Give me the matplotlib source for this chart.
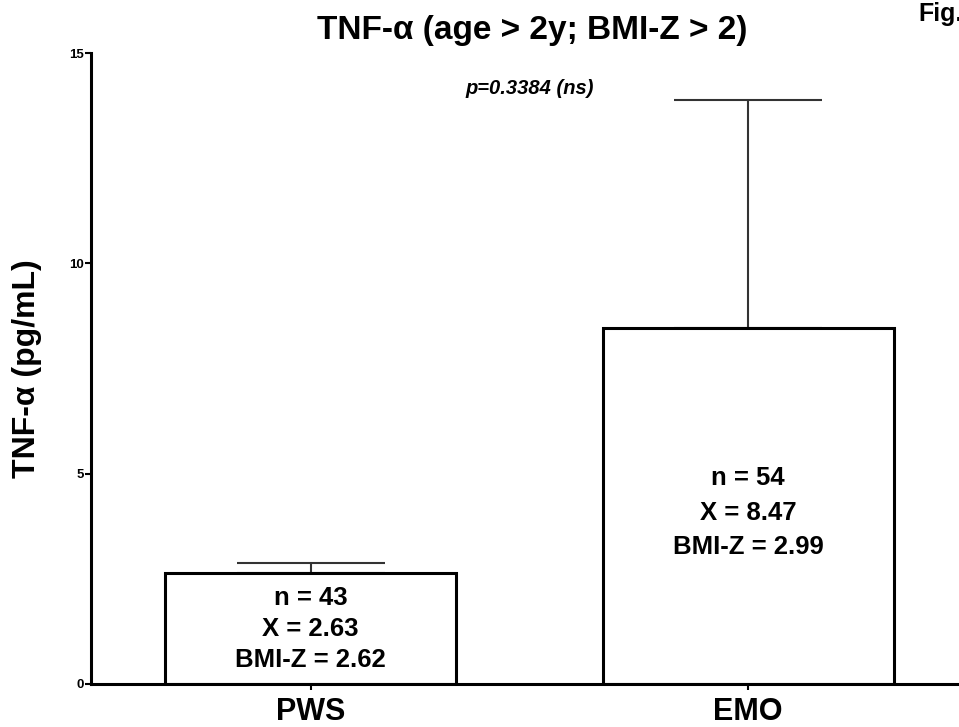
import matplotlib
matplotlib.use('Agg')
import matplotlib.pyplot as plt

plt.rcParams['font.family'] = ['Liberation Sans', 'DejaVu Sans']
plt.rcParams['font.weight'] = 'bold'

# TNF-alpha by group (mean, SEM), cohort size and mean BMI-Z
groups = ['PWS', 'EMO']
means = [2.63, 8.47]
sems = [0.25, 5.41]
counts = [43, 54]
bmi_z = [2.62, 2.99]
p_value = 0.3384

fig = plt.figure(figsize=(9.59, 7.27), dpi=100)
ax = fig.add_axes([91 / 959, 43 / 727, 868 / 959, 631 / 727])

x = list(range(len(groups)))
ax.bar(x, means, width=0.665, color='white', edgecolor='black', linewidth=2.2, zorder=2)
ax.errorbar(x, means, yerr=[[0] * len(sems), sems], fmt='none', ecolor='#333333',
            elinewidth=1.5, capsize=53, capthick=1.5, zorder=1)

# Statistics written inside each bar
text_pos = [(1.31, 1.36), (4.07, 1.56)]
for i in x:
    y, spacing = text_pos[i]
    ax.text(i, y, 'n = %d\nX = %.2f\nBMI-Z = %.2f' % (counts[i], means[i], bmi_z[i]),
            ha='center', va='center', fontsize=18.5, fontweight='bold',
            linespacing=spacing, zorder=3)

ax.set_xlim(-0.502, 1.482)
ax.set_ylim(0, 15)
ax.set_yticks([0, 5, 10, 15])
ax.set_yticklabels(['0', '5', '10', '15'], fontsize=9.5, fontweight='bold')
ax.set_xticks(x)
ax.set_xticklabels(groups, fontsize=22, fontweight='bold')
ax.tick_params(axis='y', length=4, width=1.5, pad=1)
ax.tick_params(axis='x', length=4, width=1.5, pad=5)

for side in ['top', 'right']:
    ax.spines[side].set_visible(False)
for side in ['left', 'bottom']:
    ax.spines[side].set_linewidth(2.2)

ax.set_ylabel('TNF-α (pg/mL)', fontsize=23, fontweight='bold')
ax.yaxis.set_label_coords(-0.0565, 0.5)

fig.text(532 / 959, 1 - 30 / 727, 'TNF-α (age > 2y; BMI-Z > 2)', ha='center', va='center',
         fontsize=24, fontweight='bold')
fig.text(530 / 959, 1 - 88 / 727, 'p=%.4f (ns)' % p_value, ha='center', va='center',
         fontsize=14.5, fontweight='bold', style='italic')
fig.text(918 / 959, 1 - 14 / 727, 'Fig.', ha='left', va='center', fontsize=18, fontweight='bold')

plt.savefig('out.png', dpi=100)
